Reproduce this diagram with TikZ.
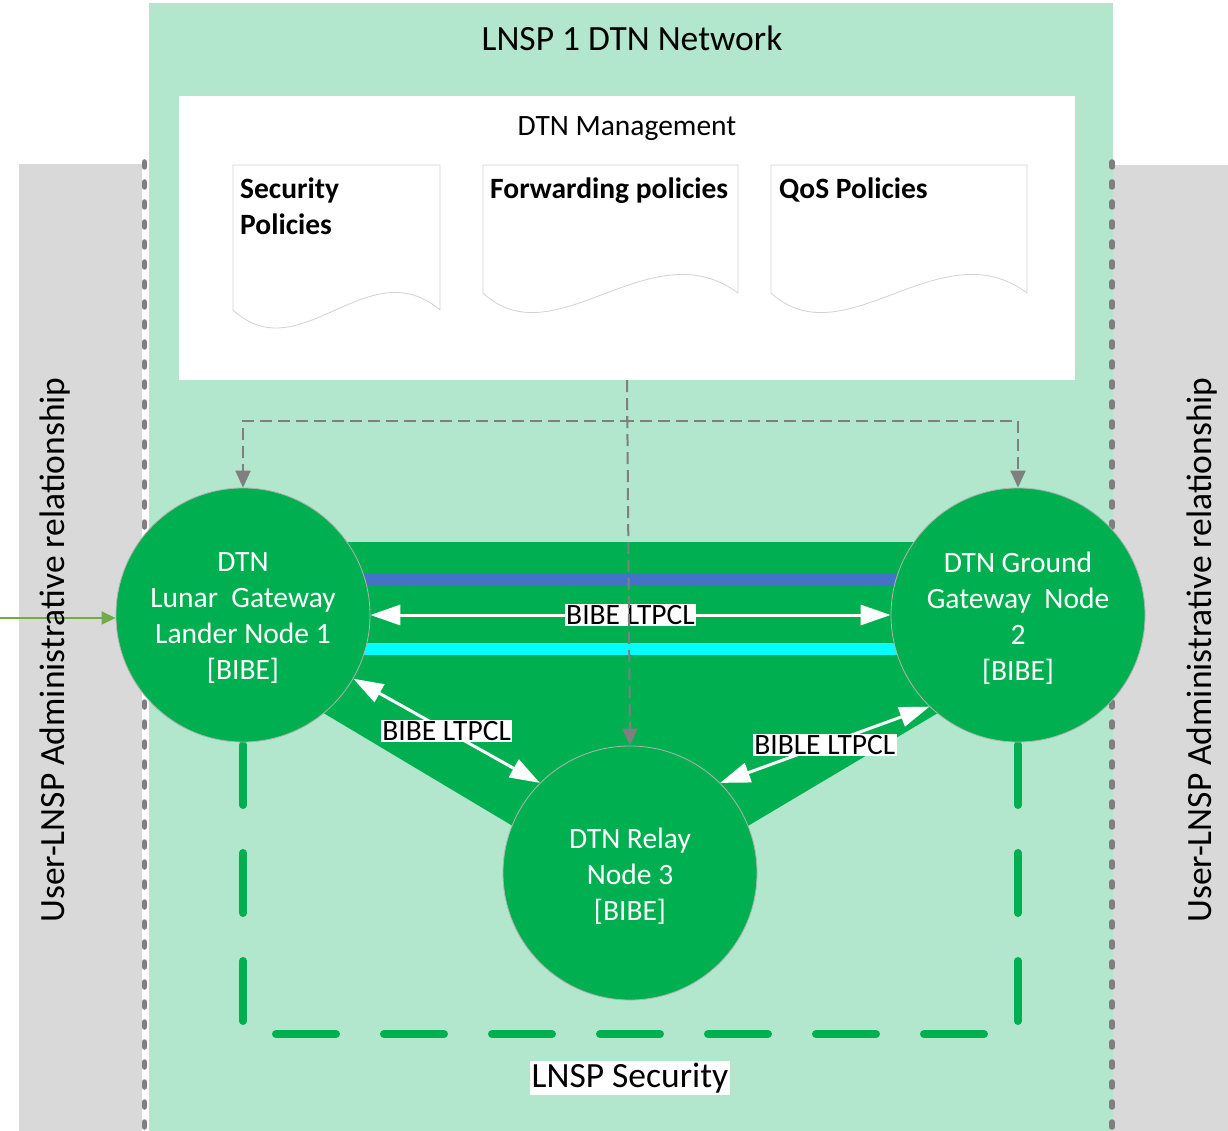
\documentclass[tikz,border=0pt]{standalone}
\usepackage{fontspec}
\setmainfont{Carlito}
\usetikzlibrary{arrows.meta}

\definecolor{mint}{HTML}{B2E6CD}
\definecolor{dkgreen}{HTML}{00B050}
\definecolor{sidegray}{HTML}{D9D9D9}
\definecolor{linegray}{HTML}{7F7F7F}
\definecolor{bandblue}{HTML}{4472C4}
\definecolor{bandcyan}{HTML}{00FFFF}
\definecolor{feedgreen}{HTML}{70AD47}

\begin{document}
\begin{tikzpicture}[x=1pt,y=-1pt,
  netnode/.style={circle, minimum size=254pt, inner sep=0pt, fill=dkgreen,
    draw=gray!60, line width=0.8pt, text=white, align=center,
    font=\fontsize{29.5}{36}\selectfont},
  nodetext/.style={text=white, align=center, inner sep=0pt,
    font=\fontsize{29.5}{36}\selectfont},
  tag/.style={fill=white, inner sep=1.5pt, text=black,
    font=\fontsize{29.5}{32}\selectfont},
  whitearrow/.style={draw=white, line width=3pt,
    {Triangle[length=30pt,width=20pt]}-{Triangle[length=30pt,width=20pt]}},
  ctl/.style={draw=linegray, line width=2pt, dash pattern=on 12pt off 6pt,
    -{Triangle[length=17pt,width=15pt]}},
  docbox/.style={draw=gray!35, fill=white, line width=0.8pt},
  doctext/.style={anchor=north west, align=left, inner sep=0pt,
    font=\bfseries\fontsize{29.5}{36}\selectfont},
  divider/.style={draw=linegray, line width=5.5pt, line cap=round,
    dash pattern=on 5pt off 15pt},
  secline/.style={draw=dkgreen, line width=8pt, line cap=round,
    dash pattern=on 60pt off 48pt},
  sidetext/.style={rotate=90, font=\fontsize{35.5}{42}\selectfont},
]
\useasboundingbox (0,0) rectangle (1228,1131);

% side regions and network area
\fill[sidegray] (19,164) rectangle (145,1131);
\fill[sidegray] (1113,165) rectangle (1228,1131);
\fill[mint] (149,3) rectangle (1113,1131);
\fill[white] (142,157) rectangle (149,1131);
\draw[divider] (144.5,162) -- (144.5,1131);
\draw[divider] (1112,162) -- (1112,1131);

\node[font=\fontsize{35.5}{42}\selectfont] (title) at (632,38) {LNSP 1 DTN Network};

% management block with its policy documents
\node[fill=white, minimum width=896pt, minimum height=284pt, inner sep=0pt] (mgmt) at (627,238) {};
\node[font=\fontsize{29.5}{36}\selectfont] (mgmttitle) at (627,129) {DTN Management};

\draw[docbox] (233,165) -- (440,165) -- (440,310)
  .. controls (368,249) and (300,372) .. (233,310) -- cycle;
\node[doctext] (secpol) at (240,178) {Security\\Policies};

\draw[docbox] (483,165) -- (738,165) -- (738,293)
  .. controls (650,228) and (555,360) .. (483,293) -- cycle;
\node[doctext] (fwdpol) at (490,178) {Forwarding policies};

\draw[docbox] (771,165) -- (1027,165) -- (1027,293)
  .. controls (940,228) and (845,360) .. (771,293) -- cycle;
\node[doctext] (qospol) at (779,178) {QoS Policies};

% link band between the nodes
\fill[dkgreen] (300,542) -- (960,542) -- (980,688) -- (630,896) -- (300,699) -- cycle;
\fill[bandblue] (300,574) rectangle (960,586);
\fill[bandcyan] (300,643) rectangle (960,655);

% security perimeter
\draw[secline] (243,1021) -- (243,742);
\draw[secline] (276,1034) -- (984,1034);
\draw[secline] (1018,1021) -- (1018,742);
\node[tag, font=\fontsize{35.5}{40}\selectfont, inner sep=2pt] (lnspsec) at (630,1078) {LNSP Security};

% DTN nodes
\node[netnode] (n1) at (243,615) {};
\node[netnode] (n2) at (1018,615) {};
\node[netnode] (n3) at (630,873) {};
\node[nodetext] (t1) at (243,618) {DTN\\Lunar\ \ Gateway\\Lander Node 1\\{[BIBE]}};
\node[nodetext] (t2) at (1018,618) {DTN Ground\\Gateway\ \ Node\\2\\{[BIBE]}};
\node[nodetext] (t3) at (630,876) {DTN Relay\\Node 3\\{[BIBE]}};

% convergence-layer links
\draw[whitearrow] (n1.east) -- (n2.west) node[tag, midway] (l12) {BIBE LTPCL};
\draw[whitearrow] (n1.-30) -- (n3.135) node[tag, midway] (l13) {BIBE LTPCL};
\draw[whitearrow] (n3.45) -- (n2.-134) node[tag, midway] (l32) {BIBLE LTPCL};

% user feed into the lander node
\coordinate (feed) at (0,618);
\draw[feedgreen, line width=1.5pt, -{Triangle[length=14pt,width=13pt]}] (feed) -- (feed -| n1.west);

% management distribution
\coordinate (bus) at (0,421);
\draw[ctl] (mgmt.south) -- (mgmt.south |- bus) -| (n1.north);
\draw[ctl] (mgmt.south) -- (mgmt.south |- bus) -| (n2.north);
\draw[ctl] (mgmt.south) -- (n3.north);

% administrative relationships
\node[sidetext] (adminL) at (55,650) {User-LNSP Administrative relationship};
\node[sidetext] (adminR) at (1202,650) {User-LNSP Administrative relationship};
\end{tikzpicture}
\end{document}
